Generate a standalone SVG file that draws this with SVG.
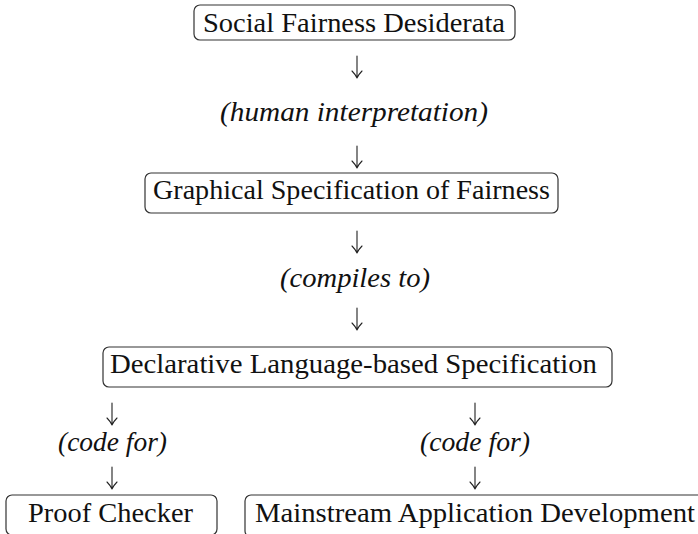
<svg xmlns="http://www.w3.org/2000/svg" width="698" height="534" viewBox="0 0 698 534">
  <style>
    .box { fill: #ffffff; stroke: #333333; stroke-width: 1.2; }
    .lbl { font-size: 27px; fill: #111111; }
    .note { font-size: 27px; font-style: italic; fill: #111111; }
    .arr { fill: none; stroke: #222222; stroke-width: 1.1; stroke-linecap: round; }
  </style>
  <defs>
    <!-- downward arrow with curved barbs, tip at (0,0), length 22 -->
    <path id="down" d="M0,-22 V0 M-5,-7 Q-1.5,-3.5 0,0 M5,-7 Q1.5,-3.5 0,0"/>
  </defs>
  <rect width="698" height="534" fill="#ffffff"/>

  <g id="connectors" font-family="Liberation Serif, DejaVu Serif, serif">
    <use href="#down" class="arr" x="357" y="78"/>
    <text class="note" x="220" y="121" textLength="268" lengthAdjust="spacingAndGlyphs">(human interpretation)</text>
    <use href="#down" class="arr" x="357" y="168"/>

    <use href="#down" class="arr" x="357" y="253"/>
    <text class="note" x="280" y="287" textLength="150" lengthAdjust="spacingAndGlyphs">(compiles to)</text>
    <use href="#down" class="arr" x="357" y="330"/>

    <use href="#down" class="arr" x="112" y="425"/>
    <text class="note" x="58" y="451" textLength="109" lengthAdjust="spacingAndGlyphs">(code for)</text>
    <use href="#down" class="arr" x="112" y="489"/>

    <use href="#down" class="arr" x="475" y="425"/>
    <text class="note" x="420" y="451" textLength="110" lengthAdjust="spacingAndGlyphs">(code for)</text>
    <use href="#down" class="arr" x="475" y="489"/>
  </g>

  <g font-family="Liberation Serif, DejaVu Serif, serif">
    <g id="social-fairness">
      <rect class="box" x="194" y="5" width="321" height="35" rx="6"/>
      <text class="lbl" x="203" y="32" textLength="302" lengthAdjust="spacingAndGlyphs">Social Fairness Desiderata</text>
    </g>

    <g id="graphical-spec">
      <rect class="box" x="145" y="173" width="413" height="40" rx="6"/>
      <text class="lbl" x="153" y="199" textLength="397" lengthAdjust="spacingAndGlyphs">Graphical Specification of Fairness</text>
    </g>

    <g id="declarative-spec">
      <rect class="box" x="103" y="347" width="509" height="40" rx="6"/>
      <text class="lbl" x="110" y="373" textLength="487" lengthAdjust="spacingAndGlyphs">Declarative Language-based Specification</text>
    </g>

    <g id="proof-checker">
      <rect class="box" x="6" y="495" width="211" height="40" rx="6"/>
      <text class="lbl" x="28" y="522" textLength="165" lengthAdjust="spacingAndGlyphs">Proof Checker</text>
    </g>

    <g id="mainstream-dev">
      <rect class="box" x="245" y="495" width="460" height="42" rx="6"/>
      <text class="lbl" x="255" y="522" textLength="440" lengthAdjust="spacingAndGlyphs">Mainstream Application Development</text>
    </g>
  </g>
</svg>
